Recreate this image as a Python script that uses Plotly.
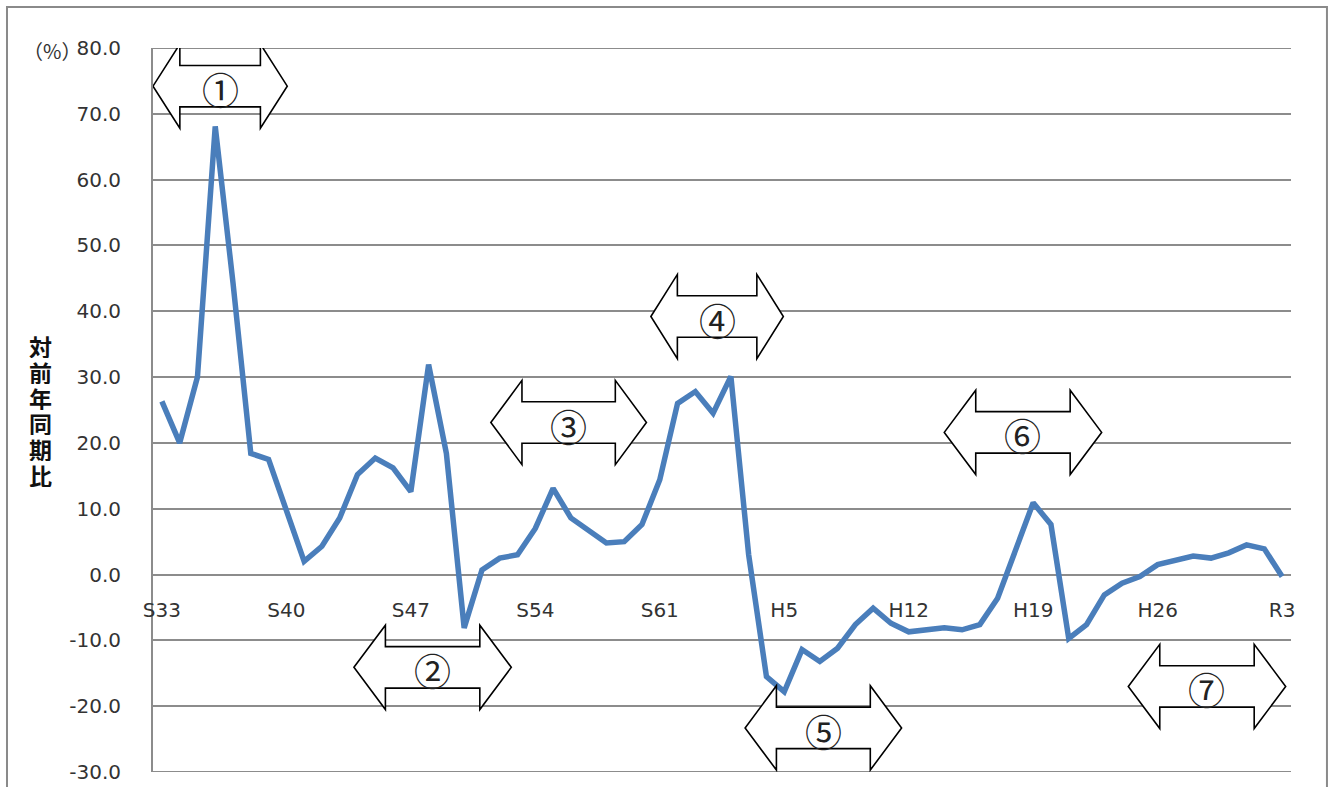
import plotly.graph_objects as go

# 対前年同期比 (%), 1958 (S33) - 2021 (R3)
years = list(range(1958, 2022))
yoy_change = [
    26.3, 20.0, 30.0, 68.1, 44.3, 18.4, 17.5, 9.8, 2.0, 4.3,
    8.6, 15.2, 17.7, 16.2, 12.6, 31.9, 18.4, -8.1, 0.7, 2.5,
    3.0, 7.0, 13.1, 8.6, 6.8, 4.8, 5.0, 7.6, 14.4, 26.0,
    27.8, 24.5, 30.1, 3.0, -15.5, -17.8, -11.4, -13.2, -11.2, -7.6,
    -5.1, -7.4, -8.7, -8.4, -8.1, -8.4, -7.6, -3.6, 3.8, 10.9,
    7.6, -9.7, -7.6, -3.1, -1.3, -0.3, 1.5, 2.2, 2.8, 2.5,
    3.3, 4.5, 3.9, -0.3,
]

# Era tick labels every 7 years
tick_years = [1958, 1965, 1972, 1979, 1986, 1993, 2000, 2007, 2014, 2021]
tick_labels = ["S33", "S40", "S47", "S54", "S61", "H5", "H12", "H19", "H26", "R3"]

# Value axis ticks
y_ticks = list(range(-30, 81, 10))
y_tick_labels = [f"{v:.1f}" for v in y_ticks]

# Period markers: label, start year, end year, vertical level (%)
period_labels = ["①", "②", "③", "④", "⑤", "⑥", "⑦"]
period_start = [1957.5, 1968.8, 1976.5, 1985.5, 1990.8, 2002.0, 2012.35]
period_end = [1965.05, 1977.65, 1985.25, 1992.95, 1999.6, 2010.85, 2021.2]
period_level = [74.2, -14.1, 23.1, 39.2, -23.3, 21.6, -17.0]

Y_MIN, Y_MAX = -30, 80
GRID = "#8c8c8c"
TICK_FONT = dict(family="DejaVu Sans", size=20, color="#333333")

fig = go.Figure()
fig.add_trace(go.Scatter(
    x=years, y=yoy_change, mode="lines",
    line=dict(color="#4a7ebb", width=5.5),
    hoverinfo="skip", showlegend=False,
))


def double_arrow(x0, x1, yc, head_h=6.4, shaft_h=3.15):
    hl = 0.2 * (x1 - x0)
    pts = [
        (x0, yc), (x0 + hl, yc + head_h), (x0 + hl, yc + shaft_h),
        (x1 - hl, yc + shaft_h), (x1 - hl, yc + head_h), (x1, yc),
        (x1 - hl, yc - head_h), (x1 - hl, yc - shaft_h),
        (x0 + hl, yc - shaft_h), (x0 + hl, yc - head_h),
    ]
    return "M " + " L ".join(f"{px},{py}" for px, py in pts) + " Z"


shapes = []
annotations = []

# Gridlines at the two ends of the value range
for yv in (Y_MIN, Y_MAX):
    shapes.append(dict(
        type="line", xref="paper", yref="y", x0=0, x1=1, y0=yv, y1=yv,
        line=dict(color=GRID, width=2), layer="below",
    ))

for lab, x0, x1, yc in zip(period_labels, period_start, period_end, period_level):
    shapes.append(dict(
        type="path", xref="x", yref="y", path=double_arrow(x0, x1, yc),
        fillcolor="white", line=dict(color="black", width=1.6), layer="above",
    ))
    annotations.append(dict(
        x=(x0 + x1) / 2, y=yc, xref="x", yref="y", text=lab, showarrow=False,
        yshift=-3, font=dict(family="Noto Sans CJK JP", size=37, color="#222222"),
    ))

# Outer chart frame
shapes.append(dict(
    type="rect", xref="paper", yref="paper",
    x0=-0.1283, x1=1.0316, y0=-0.05, y1=1.0566,
    line=dict(color="#8a8a8a", width=2), fillcolor="rgba(0,0,0,0)", layer="below",
))

# Vertical axis title, one character per row
title_chars = list("対前年同期比")
for i, ch in enumerate(title_chars):
    annotations.append(dict(
        xref="paper", yref="paper", x=-0.0985,
        y=(772 - (346.0 + 25.8 * i)) / 724, text=f"<b>{ch}</b>",
        showarrow=False, xanchor="center", yanchor="middle",
        height=24, borderpad=0,
        font=dict(family="Noto Sans CJK JP", size=23, color="#111111"),
    ))
# Unit
annotations.append(dict(
    xref="paper", yref="paper", x=-0.089, y=0.997,
    text="（%）", showarrow=False, xanchor="center", yanchor="middle",
    font=dict(family="Noto Sans CJK JP", size=20, color="#333333"),
))

fig.update_layout(
    width=1335, height=787,
    margin=dict(l=153, r=44, t=48, b=15),
    paper_bgcolor="white", plot_bgcolor="white",
    shapes=shapes, annotations=annotations,
    xaxis=dict(
        range=[1957.5, 2021.5], tickvals=tick_years, ticktext=tick_labels,
        showgrid=False, zeroline=False, showline=False, ticks="",
        anchor="free", position=(0 - Y_MIN) / (Y_MAX - Y_MIN),
        tickfont=TICK_FONT, ticklabelstandoff=21, automargin=False,
    ),
    yaxis=dict(
        range=[Y_MIN, Y_MAX], tickvals=y_ticks, ticktext=y_tick_labels,
        showgrid=True, gridcolor=GRID, gridwidth=2,
        zeroline=False, showline=True, linecolor=GRID, linewidth=2,
        ticks="", tickfont=TICK_FONT, ticklabelstandoff=26, automargin=False,
    ),
)

fig.write_html("out.html")
